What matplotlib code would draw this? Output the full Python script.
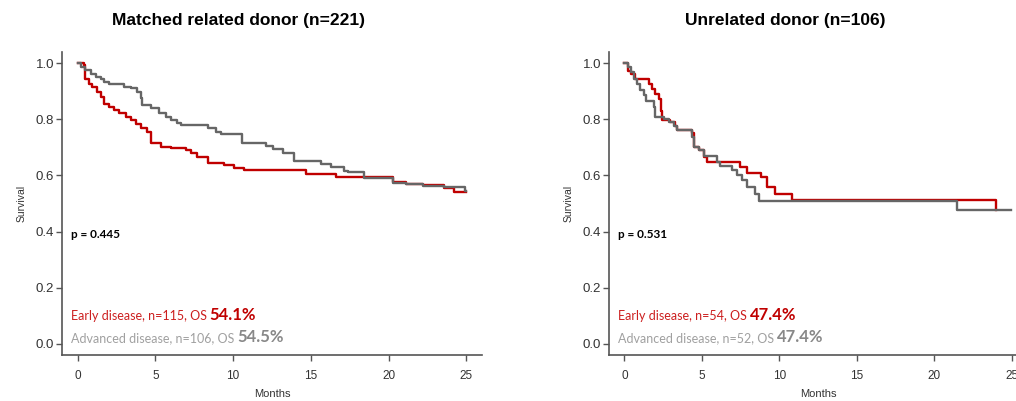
import numpy as np
from matplotlib import pyplot as plt
from matplotlib import rcParams

rcParams['font.family'] = ['Liberation Sans', 'DejaVu Sans']
rcParams['xtick.direction'] = 'out'
rcParams['ytick.direction'] = 'out'

#%% data (months, survival)
mrd_early_t = [0, 0.41, 0.51, 0.73, 0.94, 1.27, 1.48, 1.69, 2.02, 2.34, 2.66, 3.09, 3.41, 3.73,
               4.05, 4.48, 4.70, 5.34, 5.98, 6.95, 7.27, 7.70, 8.37, 9.40, 10.04, 10.70,
               14.67, 16.60, 20.30, 21.10, 22.20, 23.55, 24.20, 25.0]
mrd_early_s = [1.0, 0.993, 0.945, 0.927, 0.916, 0.898, 0.880, 0.856, 0.844, 0.833, 0.821, 0.809,
               0.797, 0.782, 0.770, 0.756, 0.714, 0.702, 0.697, 0.690, 0.679, 0.667, 0.645,
               0.637, 0.627, 0.619, 0.605, 0.594, 0.578, 0.569, 0.565, 0.555, 0.541, 0.541]

mrd_adv_t = [0, 0.19, 0.51, 0.84, 1.16, 1.48, 1.69, 2.02, 2.98, 3.41, 3.84, 4.05, 4.16, 4.70,
             5.23, 5.66, 5.98, 6.41, 6.63, 8.37, 8.88, 9.20, 10.60, 12.10, 12.55, 13.20, 13.90,
             15.64, 16.30, 17.10, 17.40, 18.40, 20.30, 21.10, 22.20, 23.55, 24.90, 25.0]
mrd_adv_s = [1.0, 0.986, 0.975, 0.963, 0.951, 0.943, 0.934, 0.925, 0.916, 0.910, 0.898, 0.875,
             0.851, 0.840, 0.821, 0.809, 0.797, 0.786, 0.780, 0.769, 0.756, 0.747, 0.716, 0.705,
             0.694, 0.681, 0.651, 0.641, 0.630, 0.616, 0.613, 0.590, 0.573, 0.570, 0.562, 0.560,
             0.545, 0.545]

urd_early_t = [0, 0.21, 0.40, 0.65, 1.57, 1.79, 2.00, 2.22, 2.33, 2.43, 2.97, 3.29, 3.40, 4.37,
               4.48, 4.80, 5.12, 5.34, 7.49, 7.92, 8.79, 9.22, 9.75, 10.83, 23.97]
urd_early_s = [1.0, 0.974, 0.960, 0.945, 0.926, 0.909, 0.890, 0.873, 0.830, 0.796, 0.790, 0.775,
               0.763, 0.750, 0.700, 0.689, 0.665, 0.648, 0.630, 0.610, 0.594, 0.559, 0.535,
               0.512, 0.477]

urd_adv_t = [0, 0.21, 0.39, 0.60, 0.82, 1.03, 1.25, 1.36, 1.89, 2.00, 2.54, 2.86, 3.19, 3.40,
             4.37, 4.48, 4.80, 5.12, 5.99, 6.20, 6.96, 7.28, 7.60, 7.92, 8.46, 8.68, 21.50, 24.94]
urd_adv_s = [1.0, 0.986, 0.968, 0.944, 0.926, 0.903, 0.885, 0.867, 0.843, 0.808, 0.800, 0.790,
             0.775, 0.763, 0.737, 0.700, 0.690, 0.670, 0.648, 0.633, 0.618, 0.600, 0.582, 0.559,
             0.535, 0.509, 0.477, 0.477]

titles = ['Matched related donor (n=221)', 'Unrelated donor (n=106)']
pvals = ['p = 0.445', 'p = 0.531']
early_lab = ['Early disease, n=115, OS ', 'Early disease, n=54, OS ']
early_os = ['54.1%', '47.4%']
adv_lab = ['Advanced disease, n=106, OS ', 'Advanced disease, n=52, OS ']
adv_os = ['54.5%', '47.4%']

curves = [((mrd_early_t, mrd_early_s), (mrd_adv_t, mrd_adv_s)),
          ((urd_early_t, urd_early_s), (urd_adv_t, urd_adv_s))]

red = '#c00000'
gray = '#666666'
anno_font = ['Lato', 'DejaVu Sans']

#%%
W, H = 1016, 401
fig = plt.figure(figsize=(W/100, H/100), dpi=100)
ax_pos = [[62/W, 1-355/H, 420/W, 303/H],
          [609/W, 1-355/H, 418/W, 303/H]]
title_x = [238/W, 785/W]

for i in range(2):
    ax = fig.add_axes(ax_pos[i])
    (te, se), (ta, sa) = curves[i]
    ax.step(te, se, where='post', color=red, lw=1.7, zorder=3)
    ax.step(ta, sa, where='post', color=gray, lw=1.7, zorder=4)

    ax.set_xlim(-1, 26)
    ax.set_ylim(-0.04, 1.04)
    ax.set_xticks(np.arange(0, 25.1, 5))
    ax.set_yticks(np.arange(0, 1.01, 0.2))
    ax.set_yticklabels([f'{y:.1f}' for y in ax.get_yticks()])
    for s in ['top', 'right']:
        ax.spines[s].set_visible(False)
    for s in ['left', 'bottom']:
        ax.spines[s].set_color('#555555')
        ax.spines[s].set_linewidth(1.2)
    ax.tick_params(axis='both', color='#555555', width=1.0, length=4.5, labelcolor='#333333')
    ax.tick_params(axis='x', pad=6, labelsize=8.5)
    ax.tick_params(axis='y', pad=1.0, labelsize=9.5)
    ax.set_xlabel('Months', fontsize=8, color='#333333', labelpad=5)
    ax.set_ylabel('Survival', fontsize=7.5, color='#333333', labelpad=7)

    ax.text(-0.45, 0.388, pvals[i], fontsize=8.5, fontweight='bold', color='black',
            family=anno_font, va='center', ha='left')

    t1 = ax.text(-0.45, 0.085, early_lab[i], fontsize=9, color='#cc1f1f',
                 family=anno_font, va='baseline', ha='left')
    ax.annotate(early_os[i], xy=(1, 0.085), xycoords=(t1, 'data'), fontsize=12,
                fontweight='bold', color=red, family=anno_font, va='baseline', ha='left')
    t2 = ax.text(-0.45, 0.006, adv_lab[i], fontsize=9, color='#a0a0a0',
                 family=anno_font, va='baseline', ha='left')
    ax.annotate(adv_os[i], xy=(1, 0.006), xycoords=(t2, 'data'), fontsize=12,
                fontweight='bold', color='#888888', family=anno_font, va='baseline', ha='left')

    fig.text(title_x[i], 1-20/H, titles[i], fontsize=12.5, fontweight='bold',
             ha='center', va='center', color='black')

fig.savefig('out.png', dpi=100)
